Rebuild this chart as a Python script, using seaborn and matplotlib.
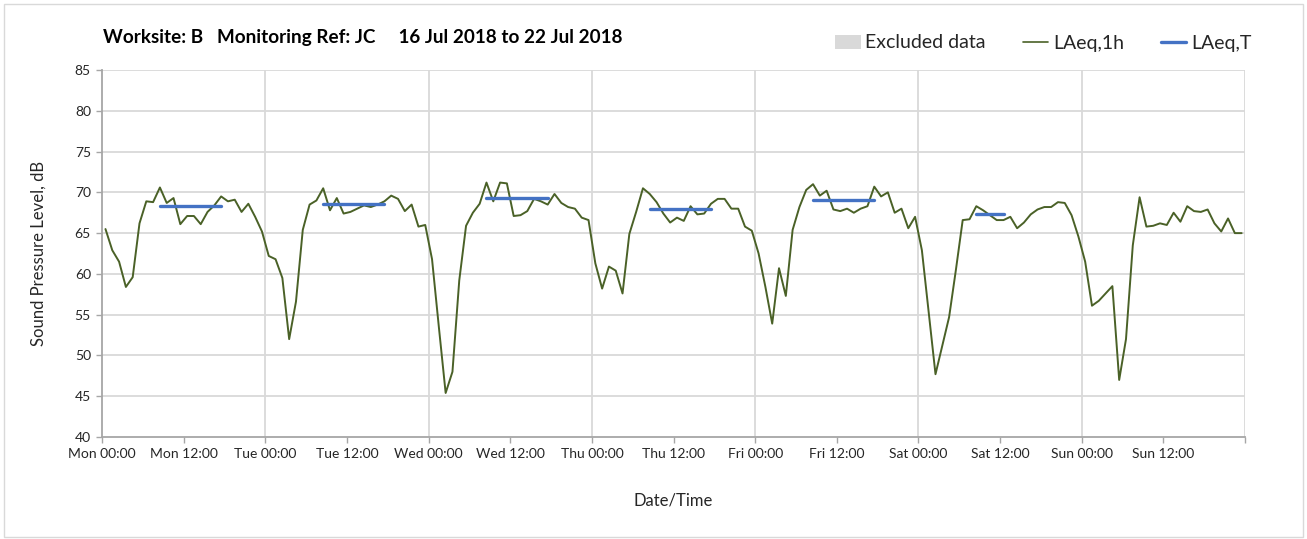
import numpy as np
import pandas as pd
import matplotlib
matplotlib.use("Agg")
import matplotlib.pyplot as plt
from matplotlib.patches import Patch, Rectangle
from matplotlib.lines import Line2D
import seaborn as sns

# ---------------- data ----------------
day_names = ["Mon", "Tue", "Wed", "Thu", "Fri", "Sat", "Sun"]

laeq_1h_mon = [65.5, 62.9, 61.5, 58.4, 59.6, 66.2, 68.9, 68.8, 70.6, 68.7, 69.3, 66.1,
               67.1, 67.1, 66.1, 67.6, 68.4, 69.5, 68.9, 69.1, 67.6, 68.6, 67.0, 65.2]
laeq_1h_tue = [62.2, 61.8, 59.5, 52.0, 56.6, 65.4, 68.5, 69.0, 70.5, 67.8, 69.3, 67.4,
               67.6, 68.0, 68.4, 68.2, 68.5, 68.9, 69.6, 69.2, 67.7, 68.5, 65.8, 66.0]
laeq_1h_wed = [61.8, 53.5, 45.4, 48.0, 59.2, 65.9, 67.5, 68.6, 71.2, 68.9, 71.2, 71.1,
               67.1, 67.2, 67.7, 69.2, 68.9, 68.5, 69.8, 68.7, 68.2, 68.0, 66.9, 66.6]
laeq_1h_thu = [61.3, 58.2, 60.9, 60.4, 57.6, 64.9, 67.6, 70.5, 69.8, 68.8, 67.4, 66.3,
               66.9, 66.5, 68.3, 67.3, 67.4, 68.6, 69.2, 69.2, 68.0, 68.0, 65.8, 65.3]
laeq_1h_fri = [62.5, 58.4, 53.9, 60.7, 57.3, 65.4, 68.2, 70.3, 71.0, 69.6, 70.2, 67.9,
               67.7, 68.0, 67.5, 68.0, 68.3, 70.7, 69.5, 70.0, 67.5, 68.0, 65.6, 67.0]
laeq_1h_sat = [62.9, 55.3, 47.7, 51.2, 54.7, 60.5, 66.6, 66.7, 68.3, 67.8, 67.2, 66.6,
               66.6, 67.0, 65.6, 66.3, 67.3, 67.9, 68.2, 68.2, 68.8, 68.7, 67.2, 64.6]
laeq_1h_sun = [61.5, 56.1, 56.7, 57.6, 58.5, 47.0, 52.0, 63.5, 69.4, 65.8, 65.9, 66.2,
               66.0, 67.5, 66.4, 68.3, 67.7, 67.6, 67.9, 66.2, 65.2, 66.8, 65.0, 65.0]

# LAeq,T daytime periods (hour index of first / last hourly value covered)
laeq_t_start_hour = [8, 32, 56, 80, 104, 128]
laeq_t_end_hour = [17, 41, 65, 89, 113, 132]
laeq_t_values = [68.3, 68.6, 69.3, 67.9, 69.1, 67.4]

y_ticks = [40, 45, 50, 55, 60, 65, 70, 75, 80, 85]

# ---------------- build frames ----------------
laeq_1h = (laeq_1h_mon + laeq_1h_tue + laeq_1h_wed + laeq_1h_thu +
           laeq_1h_fri + laeq_1h_sat + laeq_1h_sun)
df_1h = pd.DataFrame({"hour": np.arange(len(laeq_1h)) + 0.5, "level": laeq_1h})

rows = []
for k, (s, e, v) in enumerate(zip(laeq_t_start_hour, laeq_t_end_hour, laeq_t_values)):
    rows.append({"period": k, "hour": s + 0.5, "level": v})
    rows.append({"period": k, "hour": e + 0.5, "level": v})
df_t = pd.DataFrame(rows)

# ---------------- style ----------------
sns.set_theme(style="white")
plt.rcParams["font.family"] = ["Lato", "DejaVu Sans"]

green = "#4A6127"
blue = "#4472C4"
grid_c = "#D9D9D9"
axis_c = "#A6A6A6"
text_c = "#262626"

fig = plt.figure(figsize=(13.07, 5.39), dpi=100)
ax = fig.add_axes([0.0781, 0.1892, 0.8745, 0.6809])

sns.lineplot(data=df_1h, x="hour", y="level", ax=ax, color=green, linewidth=1.4)
sns.lineplot(data=df_t, x="hour", y="level", units="period", estimator=None,
             ax=ax, color=blue, linewidth=2.4)

ax.set_xlim(0, 168)
ax.set_ylim(40, 85)
ax.set_yticks(y_ticks)
ax.set_yticklabels([str(v) for v in y_ticks], fontsize=10, color=text_c)

xt = np.arange(0, 169, 12)
xl = [f"{day_names[int(h // 24)]} {int(h % 24):02d}:00" if h < 168 else "" for h in xt]
ax.set_xticks(xt)
ax.set_xticklabels(xl, fontsize=10, color=text_c)

for yv in y_ticks[1:]:
    ax.axhline(yv, color=grid_c, linewidth=1.3, zorder=0)
for xv in np.arange(24, 169, 24):
    ax.axvline(xv, color=grid_c, linewidth=1.3, zorder=0)

for s in ["top", "right"]:
    ax.spines[s].set_visible(False)
for s in ["left", "bottom"]:
    ax.spines[s].set_color(axis_c)
    ax.spines[s].set_linewidth(1.3)
ax.tick_params(axis="both", which="both", direction="out", length=4, width=1,
               color=axis_c, bottom=True, left=True, pad=4)

ax.set_xlabel("Date/Time", fontsize=12, color=text_c, labelpad=23)
ax.set_ylabel("Sound Pressure Level, dB", fontsize=12, color=text_c, labelpad=20)

fig.text(103 / 1307, 1 - 37 / 539,
         "Worksite: B   Monitoring Ref: JC     16 Jul 2018 to 22 Jul 2018",
         fontsize=13.6, fontweight="bold", color="#000000", va="center", ha="left")

handles = [Patch(facecolor="#D9D9D9", edgecolor="none"),
           Line2D([0], [0], color=green, linewidth=1.2),
           Line2D([0], [0], color=blue, linewidth=2.4)]
labels = ["Excluded data", "LAeq,1h", "LAeq,T"]
fig.legend(handles, labels, loc="center right", bbox_to_anchor=(1269 / 1307, 1 - 43 / 539),
           ncol=3, frameon=False, fontsize=14, handlelength=1.3, handletextpad=0.25,
           columnspacing=1.9, labelcolor=text_c)

fig.patches.append(Rectangle((4 / 1307, 2 / 539), 1 - 8 / 1307, 1 - 6 / 539,
                             transform=fig.transFigure, fill=False,
                             edgecolor="#D9D9D9", linewidth=1.0))

fig.savefig("out.png", dpi=100)
